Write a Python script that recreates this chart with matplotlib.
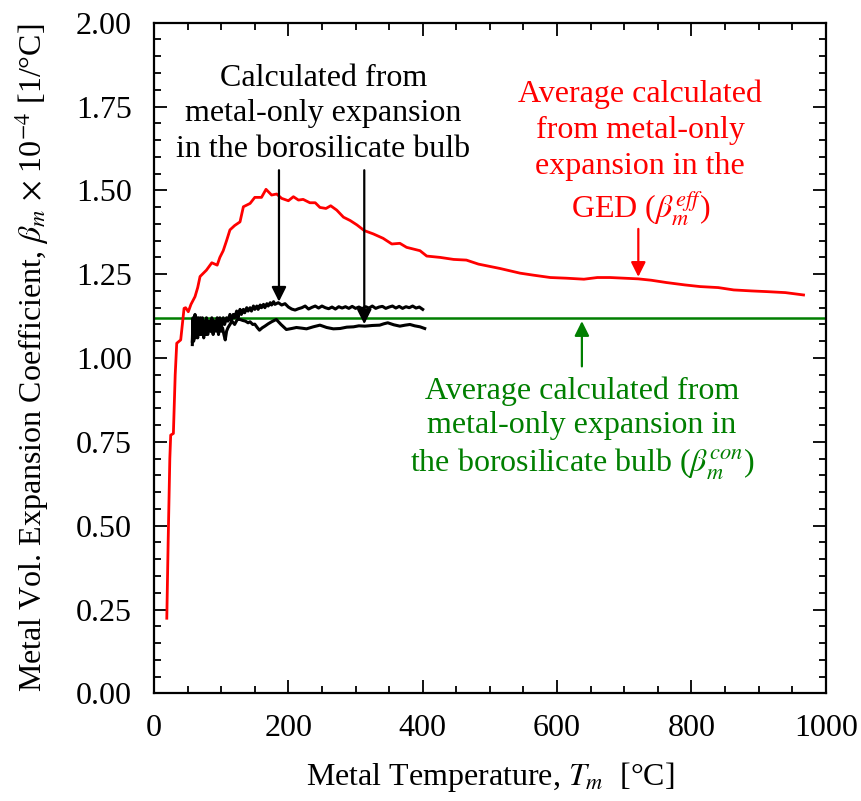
import matplotlib
matplotlib.use("Agg")
import matplotlib.pyplot as plt

plt.rcParams['font.family'] = ['Liberation Serif', 'DejaVu Serif']
plt.rcParams['mathtext.fontset'] = 'stix'

# Red: average from metal-only expansion in the GED (beta_eff)
red_T = [19, 21, 23.5, 24.8, 28.8, 31.5, 33.8, 39.7, 44.7, 47, 51, 55, 61, 65, 68.5, 78, 86, 94, 98,
         103, 108, 113, 120, 128, 133, 143, 150, 160, 166.7, 175, 182.6, 190, 200, 207.5, 215, 222,
         232, 240, 247, 256, 263, 272, 282, 292, 302, 313, 326.5, 341, 354, 366, 376, 396, 406,
         426, 446, 465, 483, 515, 545, 565, 590, 614, 640, 660, 679, 700, 721, 740, 763, 790,
         813, 840, 863, 890, 912, 940, 967]
red_v = [0.224, 0.45, 0.70, 0.77, 0.775, 0.95, 1.044, 1.054, 1.148, 1.15, 1.138, 1.16, 1.183, 1.21,
         1.243, 1.262, 1.284, 1.277, 1.30, 1.32, 1.35, 1.382, 1.395, 1.406, 1.451, 1.461, 1.479,
         1.479, 1.503, 1.486, 1.489, 1.476, 1.469, 1.481, 1.471, 1.473, 1.463, 1.463, 1.449, 1.446,
         1.454, 1.441, 1.42, 1.41, 1.397, 1.38, 1.37, 1.357, 1.34, 1.342, 1.33, 1.32, 1.304, 1.30,
         1.294, 1.292, 1.28, 1.267, 1.253, 1.247, 1.240, 1.238, 1.235, 1.240, 1.240, 1.238, 1.236,
         1.232, 1.225, 1.218, 1.213, 1.210, 1.203, 1.200, 1.198, 1.195, 1.188]

# Black: calculated from metal-only expansion in the borosilicate bulb (two runs)
blkA_T = [57, 58, 59, 60, 61, 62, 63, 64, 66, 67, 69, 70, 72, 73, 75, 76, 78, 80, 82, 84, 86,
          88, 90, 92, 94, 96, 98, 100, 103, 105, 108, 110, 113, 115, 118, 120, 123, 125, 128,
          130, 133, 135, 138, 140, 143, 145, 148, 150, 153, 155, 158, 160, 163, 165, 168, 170,
          173, 175, 178, 180, 185, 190, 195, 200, 205, 210, 215, 220, 225, 230, 235, 240, 245,
          250, 255, 260, 265, 270, 275, 280, 285, 290, 295, 300, 305, 310, 315, 320, 325, 330,
          335, 340, 345, 350, 355, 360, 365, 370, 375, 380, 385, 390, 395, 400]
blkA_v = [1.05, 1.12, 1.07, 1.06, 1.13, 1.08, 1.12, 1.07, 1.12, 1.08, 1.11, 1.08, 1.12, 1.09,
          1.11, 1.08, 1.12, 1.09, 1.11, 1.08, 1.12, 1.10, 1.11, 1.09, 1.12, 1.10, 1.12, 1.09,
          1.12, 1.10, 1.12, 1.11, 1.13, 1.11, 1.13, 1.12, 1.14, 1.12, 1.145, 1.13, 1.145, 1.135,
          1.15, 1.14, 1.15, 1.14, 1.155, 1.145, 1.155, 1.145, 1.158, 1.15, 1.16, 1.15, 1.162,
          1.155, 1.165, 1.158, 1.168, 1.16, 1.165, 1.158, 1.162, 1.152, 1.146, 1.143, 1.147,
          1.15, 1.155, 1.146, 1.151, 1.155, 1.149, 1.155, 1.15, 1.147, 1.152, 1.146, 1.153,
          1.149, 1.153, 1.148, 1.154, 1.148, 1.152, 1.147, 1.153, 1.149, 1.155, 1.148, 1.152,
          1.154, 1.148, 1.152, 1.155, 1.149, 1.154, 1.148, 1.153, 1.150, 1.155, 1.149, 1.152,
          1.145]

blkB_T = [57, 58, 59, 61, 62, 63, 65, 66, 68, 69, 71, 72, 74, 75, 77, 78, 80, 82, 84, 86, 88,
          90, 92, 94, 96, 98, 100, 102, 104, 106, 108, 110, 113, 116, 120, 124, 128, 132, 136,
          140, 143, 147, 150, 154, 157, 161, 165, 170, 175, 182, 189, 197, 205, 212, 220, 227,
          237, 247, 257, 267, 277, 287, 297, 305, 314, 325, 336, 342, 348, 357, 366, 374, 381,
          388, 396, 403]
blkB_v = [1.04, 1.10, 1.05, 1.11, 1.06, 1.12, 1.06, 1.11, 1.07, 1.12, 1.07, 1.10, 1.06, 1.11,
          1.07, 1.10, 1.07, 1.11, 1.08, 1.10, 1.07, 1.11, 1.08, 1.10, 1.07, 1.10, 1.08, 1.09,
          1.07, 1.054, 1.08, 1.09, 1.10, 1.11, 1.10, 1.115, 1.115, 1.112, 1.11, 1.105, 1.108,
          1.10, 1.101, 1.09, 1.083, 1.09, 1.095, 1.102, 1.108, 1.115, 1.10, 1.085, 1.088, 1.091,
          1.089, 1.087, 1.093, 1.098, 1.091, 1.087, 1.088, 1.092, 1.093, 1.096, 1.095, 1.097,
          1.098, 1.102, 1.105, 1.099, 1.095, 1.098, 1.10, 1.096, 1.093, 1.088]

green_value = 1.12

x_ticks = [0, 200, 400, 600, 800, 1000]
y_ticks = [0.00, 0.25, 0.50, 0.75, 1.00, 1.25, 1.50, 1.75, 2.00]

FS = 23

fig = plt.figure(figsize=(8.62, 8.01), dpi=100)
ax = fig.add_axes([0.1787, 0.1344, 0.9579 - 0.1787, 0.9717 - 0.1344])

ax.plot(red_T, red_v, color='#ff0000', lw=2.0, zorder=3)
ax.plot(blkA_T, blkA_v, color='black', lw=2.2, zorder=3)
ax.plot(blkB_T, blkB_v, color='black', lw=2.2, zorder=3)
ax.axhline(green_value, color='#007f00', lw=1.8, zorder=2)

ax.set_xlim(0, 1000)
ax.set_ylim(0, 2.0)
ax.set_xticks(x_ticks)
ax.set_xticklabels([str(t) for t in x_ticks])
ax.set_yticks(y_ticks)
ax.set_yticklabels([f"{t:.2f}" for t in y_ticks])
ax.set_xticks(range(0, 1001, 50), minor=True)
ax.set_yticks([i * 0.05 for i in range(41)], minor=True)

ax.tick_params(which='both', direction='in', top=True, right=True, width=1.3, colors='black')
ax.tick_params(which='major', length=9.5)
ax.tick_params(which='minor', length=5)
ax.tick_params(axis='x', which='major', labelsize=FS, pad=15)
ax.tick_params(axis='y', which='major', labelsize=FS, pad=16)
for s in ax.spines.values():
    s.set_linewidth(1.6)

ax.set_xlabel(r"Metal Temperature, $T_m$  [°C]", fontsize=FS, labelpad=12)
ax.set_ylabel(r"Metal Vol. Expansion Coefficient, $\beta_m$ $\times$ 10$^{-4}$ [1/°C]",
              fontsize=FS, labelpad=18)

# Annotations
ax.text(252, 1.60, "Calculated from\nmetal-only expansion\nin the borosilicate bulb",
        ha='center', va='baseline', fontsize=FS, color='black', linespacing=1.3)
arrow_k = dict(arrowstyle='-|>', color='black', lw=1.6, mutation_scale=22, shrinkA=0, shrinkB=0)
ax.annotate("", xy=(186, 1.168), xytext=(186, 1.56), arrowprops=arrow_k)
ax.annotate("", xy=(313, 1.101), xytext=(313, 1.56), arrowprops=arrow_k)

ax.text(724, 1.42, "Average calculated\nfrom metal-only\nexpansion in the\nGED ($\\beta_m^{eff}$)",
        ha='center', va='baseline', fontsize=FS, color='#ff0000', linespacing=1.3)
arrow_r = dict(arrowstyle='-|>', color='#ff0000', lw=1.6, mutation_scale=22, shrinkA=0, shrinkB=0)
ax.annotate("", xy=(721, 1.242), xytext=(721, 1.385), arrowprops=arrow_r)

ax.text(637, 0.661, "Average calculated from\nmetal-only expansion in\nthe borosilicate bulb ($\\beta_m^{con}$)",
        ha='center', va='baseline', fontsize=FS, color='#007f00', linespacing=1.25)
arrow_g = dict(arrowstyle='-|>', color='#007f00', lw=1.6, mutation_scale=22, shrinkA=0, shrinkB=0)
ax.annotate("", xy=(637, 1.11), xytext=(637, 0.975), arrowprops=arrow_g)

fig.savefig("out.png", dpi=100)
